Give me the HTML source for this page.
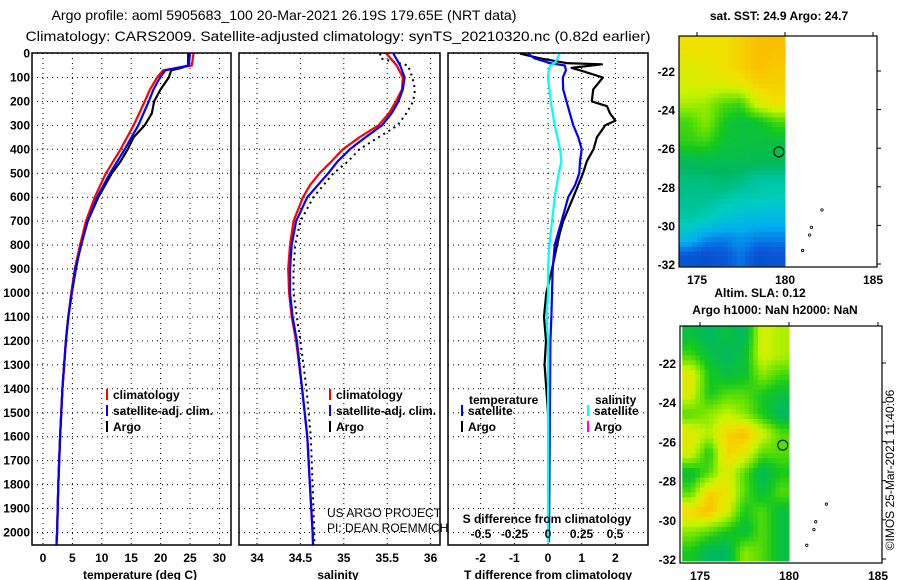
<!DOCTYPE html>
<html><head><meta charset="utf-8"><style>
html,body{margin:0;padding:0;background:#fff;}
svg{display:block;font-family:"Liberation Sans",sans-serif;}
.lb{font-size:12px;font-weight:bold;fill:#000;}
.nb{font-size:12px;font-weight:normal;fill:#000;}
.grid{stroke:#000;stroke-width:1;stroke-dasharray:1 4;}
</style></head><body>
<svg id="chart" width="900" height="580" viewBox="0 0 900 580">
<g id="titles">
<text x="284" y="20" text-anchor="middle" font-size="14" textLength="465" lengthAdjust="spacingAndGlyphs">Argo profile: aoml 5905683_100 20-Mar-2021 26.19S 179.65E (NRT data)</text>
<text x="338" y="41" text-anchor="middle" font-size="14" textLength="625" lengthAdjust="spacingAndGlyphs">Climatology: CARS2009. Satellite-adjusted climatology: synTS_20210320.nc (0.82d earlier)</text>
</g>
<g id="p1"></g>
<g id="p2"></g>
<g id="p3"></g>
<g id="m1"></g>
<g id="m2"></g>
<text x="779" y="20" text-anchor="middle" class="lb">sat. SST: 24.9 Argo: 24.7</text>
<text x="760" y="297" text-anchor="middle" class="lb">Altim. SLA: 0.12</text>
<text x="775" y="314" text-anchor="middle" class="lb">Argo h1000: NaN h2000: NaN</text>
<text transform="translate(894,470) rotate(-90)" text-anchor="middle" font-size="12">©IMOS 25-Mar-2021 11:40:06</text>
</svg>
<script>
// ---------- data ----------
const depthTicks=[0,100,200,300,400,500,600,700,800,900,1000,1100,1200,1300,1400,1500,1600,1700,1800,1900,2000];
const tempTicks=[0,5,10,15,20,25,30];
const salTicks=[34,34.5,35,35.5,36];
const salTickLabels=["34","34.5","35","35.5","36"];
const dTTicks=[-2,-1,0,1,2];
const dSTicks=[-0.5,-0.25,0,0.25,0.5];

const climDepth=[0,50,70,100,150,200,300,400,500,600,700,800,900,1000,1100,1200,1400,1600,1800,2000,2050];
const climTemp=[25.6,25.3,20.4,19.4,18.2,17.3,15.4,13.2,10.7,8.8,7.3,6.3,5.4,4.8,4.3,3.9,3.3,2.9,2.6,2.4,2.3];
const satTemp=[25.0,24.8,20.8,19.9,18.8,18.0,16.2,13.9,11.4,9.2,7.6,6.5,5.5,4.9,4.3,3.9,3.3,2.9,2.6,2.4,2.3];
const argoDepth=[0,50,60,70,100,150,200,250,300,350,400,450,500,600,700,800,900,1000,1100,1200,1400,1600,1800,2000,2040];
const argoTemp=[24.7,24.7,23.5,21.8,21.4,20.0,18.9,18.5,17.3,15.4,14.4,13.2,11.7,9.4,7.6,6.4,5.6,4.9,4.3,3.9,3.3,2.9,2.6,2.4,2.3];

const salDepth=[0,50,100,150,200,250,300,350,400,450,500,550,600,700,800,900,1000,1100,1200,1400,1600,1800,2000,2050];
const climSal=[35.49,35.61,35.68,35.67,35.60,35.52,35.40,35.18,34.99,34.86,34.72,34.61,34.53,34.42,34.38,34.36,34.37,34.40,34.45,34.52,34.58,34.61,34.64,34.645];
const satSal=[35.57,35.65,35.70,35.68,35.63,35.55,35.44,35.25,35.07,34.93,34.82,34.70,34.58,34.45,34.40,34.38,34.38,34.41,34.46,34.52,34.58,34.61,34.64,34.645];
const argoSalDepth=[0,20,50,100,150,200,250,300,350,400,450,500,600,700,800,900,1000,1100,1200,1400,1600,1800,2000,2040];
const argoSal=[35.42,35.42,35.74,35.79,35.82,35.80,35.72,35.62,35.40,35.18,35.05,34.88,34.65,34.50,34.44,34.42,34.42,34.46,34.50,34.57,34.62,34.64,34.66,34.66];

const dDepthA=[0,20,40,45,60,70,100,150,200,220,250,280,300,350,400,450,500,600,700,750,800,900,1000,1100,1200,1300,1400,1500,1600,2040];
const argoDT=[-0.83,-0.24,0.55,1.6,0.7,0.95,1.63,1.34,1.3,1.75,1.84,2.0,1.7,1.45,1.35,1.15,1.04,0.75,0.45,0.35,0.27,0.12,-0.05,-0.12,-0.06,-0.1,-0.05,0,0.02,0.02];
const dDepthS=[0,20,40,50,70,100,150,200,250,300,350,400,450,500,550,600,650,700,800,900,1000,1100,1200,1600,2040];
const satDT=[-0.6,-0.4,0.06,0.5,0.53,0.44,0.45,0.55,0.65,0.75,0.9,1.0,0.95,0.93,0.8,0.6,0.5,0.4,0.2,0.14,0.12,0.1,0.07,0.05,0.03];
const satDS=[0.086,0.07,0.05,0.015,0.005,0,0.01,0.02,0.035,0.05,0.07,0.09,0.1,0.08,0.065,0.05,0.04,0.03,0.01,0,0,-0.01,0,0,0];

const latTicks=[-22,-24,-26,-28,-30,-32];
const lonTicks=[175,180,185];
const sstGrid=[
[.85,.85,.85,.88,.92,.92],[.8,.82,.85,.88,.92,.9],[.78,.8,.8,.83,.88,.88],
[.72,.7,.62,.6,.8,.85],[.6,.68,.55,.5,.52,.6],[.58,.6,.52,.5,.5,.5],
[.47,.48,.47,.48,.47,.47],[.42,.42,.44,.42,.38,.38],[.4,.4,.38,.36,.36,.35],
[.38,.36,.32,.3,.28,.28],[.3,.22,.2,.22,.2,.2],[.12,.1,.12,.18,.1,.12]];
const slaGrid=[
[.5,.45,.5,.45,.78,.72],[.6,.5,.45,.5,.78,.72],[.82,.55,.5,.52,.68,.6],
[.78,.55,.62,.62,.55,.5],[.62,.68,.75,.68,.55,.45],[.82,.72,.88,.92,.78,.62],
[.78,.55,.88,.82,.62,.62],[.5,.62,.8,.62,.45,.55],[.62,.88,.85,.62,.5,.62],
[.88,.92,.78,.55,.62,.5],[.68,.62,.55,.5,.62,.5],[.55,.45,.45,.68,.62,.5]];
const floatLon=179.65, floatLat=-26.19;
const islands=[[182.1,-29.2],[181.5,-30.1],[181.4,-30.5],[181.0,-31.3]];

// ---------- helpers ----------
const NS="http://www.w3.org/2000/svg";
function mk(parent,tag,attrs,text){const e=document.createElementNS(NS,tag);for(const k in attrs)e.setAttribute(k,attrs[k]);if(text!==undefined)e.textContent=text;parent.appendChild(e);return e;}
const yD=d=>53.5+d*0.2395;
const TOP=53,BOT=545;
function frame(g,x0,x1,name){
  depthTicks.forEach(d=>{const l=mk(g,'line',{x1:x0,x2:x1,y1:yD(d),y2:yD(d),class:'grid'});
  
  });
}
function vgrid(g,xs,name){xs.forEach(x=>{const l=mk(g,'line',{x1:x,x2:x,y1:TOP,y2:BOT,class:'grid'});
  
  });}
function border(g,x0,x1,name){const r=mk(g,'rect',{x:x0,y:TOP,width:x1-x0,height:BOT-TOP,fill:'none',stroke:'#000','stroke-width':1.5});
  
  }
function line(g,xs,ds,fx,color,name,extra){
  const p=xs.map((v,i)=>(i?'L':'M')+fx(v).toFixed(1)+','+yD(ds[i]).toFixed(1)).join('');
  const e=mk(g,'path',Object.assign({d:p,fill:'none',stroke:color,'stroke-width':2.2,'stroke-linejoin':'round'},extra||{}));
  
  
  return e;
}
function txt(g,x,y,s,anchor,name,cls){const t=mk(g,'text',{x:x,y:y,'text-anchor':anchor||'start',class:cls||'lb'},s);
  
  return t;}
function legend(g,x,y,color,label,name){
  const b=mk(g,'rect',{x:x,y:y-6,width:2,height:11,fill:color});
  
  
  txt(g,x+7,y+4,label,'start',name);
}

// ---------- panel 1: temperature ----------
const p1=document.getElementById('p1');
const xT=t=>43+t*5.88;
frame(p1,32,231,'temp');vgrid(p1,tempTicks.map(xT),'temp');
line(p1,argoTemp,argoDepth,xT,'#000','argo-temp-line');
line(p1,climTemp,climDepth,xT,'#f00','clim-temp-line');
line(p1,satTemp,climDepth,xT,'#00f','sat-temp-line');
border(p1,32,231,'temp');
depthTicks.forEach(d=>txt(p1,30,yD(d)+4,String(d),'end','depth-tick-label'));
tempTicks.forEach(t=>txt(p1,xT(t),562,String(t),'middle','temp-tick-label'));
txt(p1,140,579,'temperature (deg C)','middle','temp-axis-title');
legend(p1,106,395,'#f00','climatology','legend-climatology');
legend(p1,106,411,'#00f','satellite-adj. clim.','legend-satellite');
legend(p1,106,427,'#000','Argo','legend-argo');

// ---------- panel 2: salinity ----------
const p2=document.getElementById('p2');
const xS=s=>257+(s-34)*86.8;
frame(p2,239,440,'sal');vgrid(p2,salTicks.map(xS),'sal');
line(p2,argoSal,argoSalDepth,xS,'#000','argo-sal-line',{'stroke-dasharray':'2 4','stroke-width':2});
line(p2,climSal,salDepth,xS,'#f00','clim-sal-line');
line(p2,satSal,salDepth,xS,'#00f','sat-sal-line');
border(p2,239,440,'sal');
salTicks.forEach((s,i)=>txt(p2,xS(s),562,salTickLabels[i],'middle','sal-tick-label'));
txt(p2,338,579,'salinity','middle','sal-axis-title');
legend(p2,329,395,'#f00','climatology','legend-climatology');
legend(p2,329,411,'#00f','satellite-adj. clim.','legend-satellite');
legend(p2,329,427,'#000','Argo','legend-argo');
txt(p2,327,517,'US ARGO PROJECT','start','project-label','nb');
txt(p2,327,532,'PI: DEAN ROEMMICH','start','pi-label','nb');

// ---------- panel 3: differences ----------
const p3=document.getElementById('p3');
const xdT=v=>548+v*33.7;
const xdS=v=>548+v*134;
frame(p3,448,648,'diff');vgrid(p3,dTTicks.map(xdT),'diff');
line(p3,argoDT,dDepthA,xdT,'#000','argo-tdiff-line');
line(p3,satDT,dDepthS,xdT,'#00f','sat-tdiff-line');
line(p3,satDS,dDepthS,xdS,'#0ff','sat-sdiff-line');
border(p3,448,648,'diff');
dTTicks.forEach(v=>txt(p3,xdT(v),562,String(v),'middle','tdiff-tick-label'));
txt(p3,548,579,'T difference from climatology','middle','tdiff-axis-title');
dSTicks.forEach(v=>txt(p3,xdS(v),538,String(v),'middle','sdiff-tick-label'));
txt(p3,547,523,'S difference from climatology','middle','sdiff-axis-title');
txt(p3,469,404,'temperature','start','legend-temperature-heading');
txt(p3,595,404,'salinity','start','legend-salinity-heading');
legend(p3,461,411,'#00f','satellite','legend-t-satellite');
legend(p3,461,427,'#000','Argo','legend-t-argo');
legend(p3,587,411,'#0ff','satellite','legend-s-satellite');
legend(p3,587,427,'#f0f','Argo','legend-s-argo');

// ---------- maps ----------
const stops=[[0,[0,50,170]],[.15,[10,95,224]],[.25,[0,176,240]],[.35,[0,204,192]],[.45,[0,184,96]],[.55,[20,200,30]],[.65,[110,228,0]],[.75,[200,244,0]],[.85,[240,224,0]],[.95,[255,176,0]],[1,[255,160,0]]];
function cmap(v){v=Math.max(0,Math.min(1,v));for(let i=1;i<stops.length;i++){if(v<=stops[i][0]){const a=stops[i-1],b=stops[i],f=(v-a[0])/(b[0]-a[0]);
 return 'rgb('+a[1].map((c,k)=>Math.round(c+(b[1][k]-c)*f)).join(',')+')';}}return 'rgb(255,160,0)';}
function sample(grid,fr,fc){
  const R=grid.length,C=grid[0].length;
  const r=Math.min(Math.max(fr-0.5,0),R-1),c=Math.min(Math.max(fc-0.5,0),C-1);
  const r0=Math.floor(r),c0=Math.floor(c),r1=Math.min(r0+1,R-1),c1=Math.min(c0+1,C-1);
  const a=r-r0,b=c-c0;
  return grid[r0][c0]*(1-a)*(1-b)+grid[r0][c1]*(1-a)*b+grid[r1][c0]*a*(1-b)+grid[r1][c1]*a*b;
}
function drawMap(g,grid,box,name){
  const {x0,x1,y0,y1,lon175,lon180,lat22,latPx}=box;
  const xL=l=>lon175+(l-175)*(lon180-lon175)/5;
  const yL=l=>lat22+(-22-l)*latPx;
  const latTop=-22+(lat22-y0)/latPx;
  const rows=grid.length,cols=grid[0].length;
  const dLat=(latTop+32.1)/rows;
  const S=4;
  for(let r=0;r<rows*S;r++)for(let c=0;c<cols*S;c++){
    const ya=yL(latTop-r*dLat/S),yb=yL(latTop-(r+1)*dLat/S);
    const xa=xL(174+c/S),xb=xL(174+(c+1)/S);
    const v=sample(grid,(r+0.5)/S,(c+0.5)/S);
    const cell=mk(g,'rect',{x:xa.toFixed(1),y:ya.toFixed(1),width:(xb-xa+0.5).toFixed(1),height:(yb-ya+0.5).toFixed(1),fill:cmap(v)});
    
    
  }
  const fr=mk(g,'rect',{x:x0,y:y0,width:x1-x0,height:y1-y0,fill:'none',stroke:'#000','stroke-width':1.2});
  
  
  latTicks.forEach(l=>{txt(g,x0-4,yL(l)+5,String(l),'end',name+'-lat-label');
    mk(g,'line',{x1:x1,x2:x1+4,y1:yL(l),y2:yL(l),stroke:'#000'});});
  lonTicks.forEach(l=>{txt(g,xL(l),y1+17,String(l),'middle',name+'-lon-label').setAttribute('font-size','13');
    mk(g,'line',{x1:xL(l),x2:xL(l),y1:y0,y2:y0-4,stroke:'#000'});});
  islands.forEach(p=>{const d=mk(g,'circle',{cx:xL(p[0]),cy:yL(p[1]),r:1.2,fill:'none',stroke:'#000','stroke-width':0.8});
    
    });
  const m=mk(g,'circle',{cx:xL(floatLon),cy:yL(floatLat),r:5,fill:'none',stroke:'#000','stroke-width':1});
  
  
}
drawMap(document.getElementById('m1'),sstGrid,{x0:679,x1:877,y0:36,y1:267,lon175:697,lon180:785,lat22:71,latPx:19.3},'sst-map');
drawMap(document.getElementById('m2'),slaGrid,{x0:680,x1:882,y0:326,y1:563,lon175:700,lon180:789,lat22:363,latPx:19.6},'sla-map');
</script>
</body></html>
